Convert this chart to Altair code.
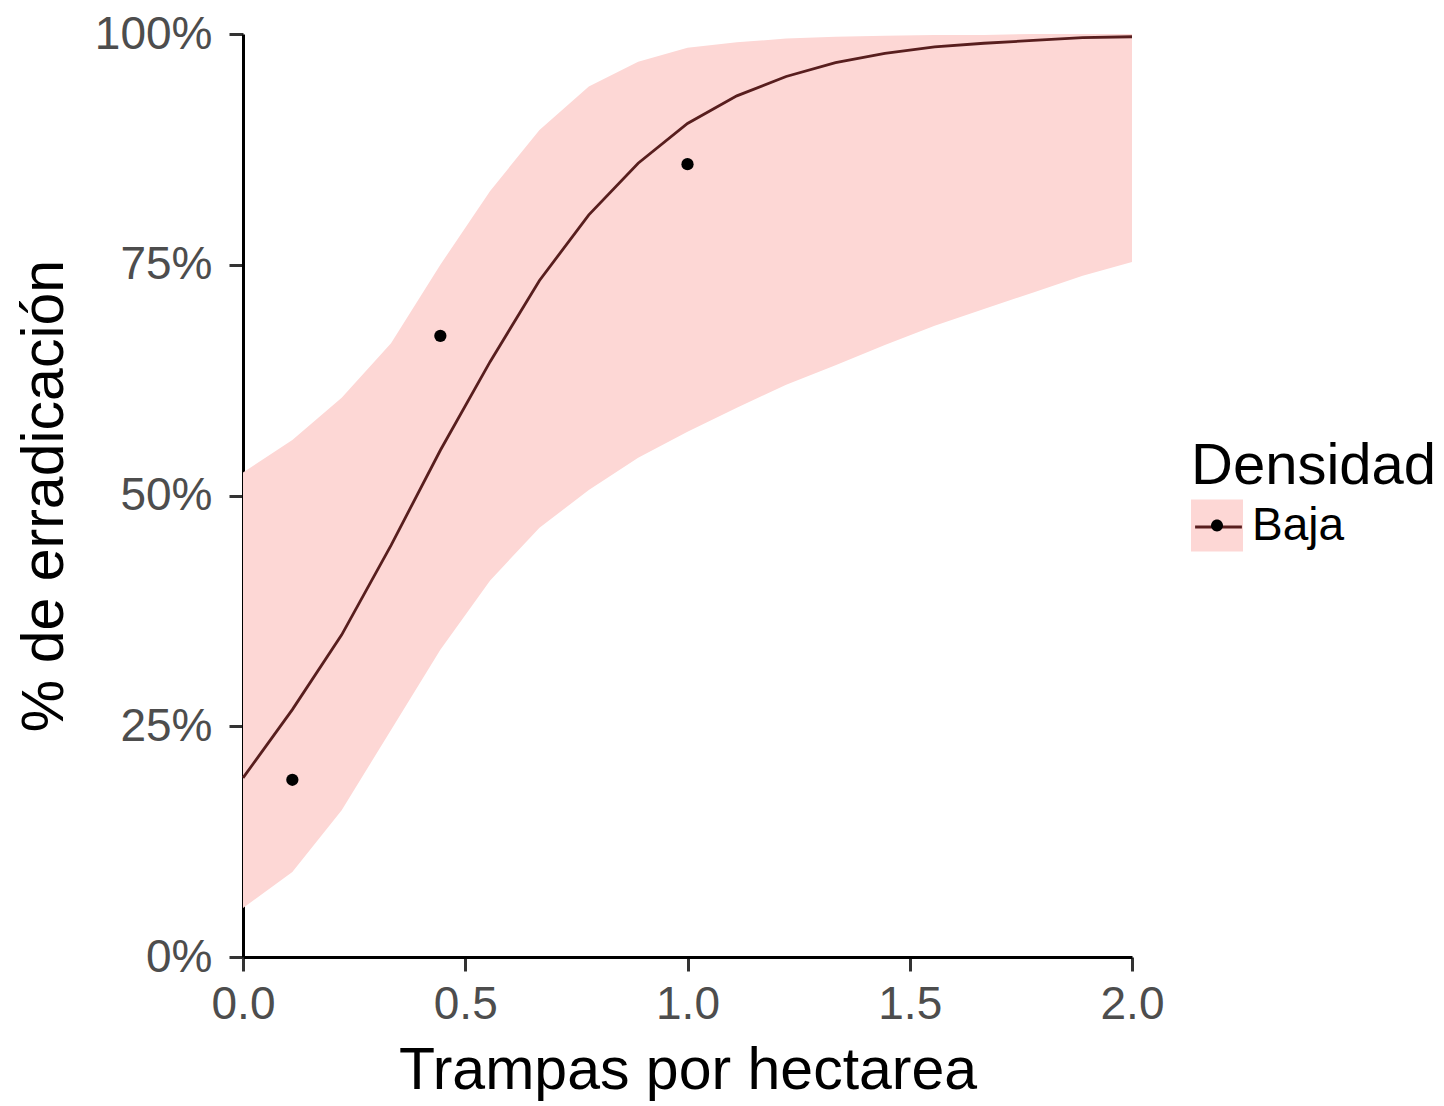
import altair as alt
import pandas as pd

FONT = "Liberation Sans"
PINK = "#FDD7D5"
LINE_COL = "#581E1E"

# Fitted curve grid (trampas por hectarea)
x_vals = [0.0, 0.111, 0.222, 0.333, 0.444, 0.556, 0.667, 0.778, 0.889, 1.0,
          1.111, 1.222, 1.333, 1.444, 1.556, 1.667, 1.778, 1.889, 2.0]
fit_pct = [19.4, 26.8, 34.9, 44.6, 54.9, 64.5, 73.3, 80.4, 86.0, 90.3,
           93.3, 95.4, 96.9, 97.9, 98.6, 99.0, 99.3, 99.6, 99.7]
upper_pct = [52.5, 56.0, 60.6, 66.5, 75.0, 83.0, 89.6, 94.3, 97.0, 98.5,
             99.1, 99.5, 99.7, 99.8, 99.9, 99.9, 100.0, 100.0, 100.0]
lower_pct = [5.3, 9.2, 15.9, 24.6, 33.3, 40.8, 46.5, 50.6, 54.1, 56.9,
             59.5, 62.0, 64.1, 66.3, 68.4, 70.2, 72.0, 73.8, 75.3]

# Observed points
obs_x = [0.111, 0.444, 1.0]
obs_pct = [19.2, 67.3, 85.9]

group = "Baja"
x_ticks = [0.0, 0.5, 1.0, 1.5, 2.0]
y_ticks = [0.0, 0.25, 0.5, 0.75, 1.0]

curve = pd.DataFrame({
    "x": x_vals,
    "fit": [v / 100 for v in fit_pct],
    "hi": [v / 100 for v in upper_pct],
    "lo": [v / 100 for v in lower_pct],
    "dens_area": [group] * len(x_vals),
    "dens_line": [group] * len(x_vals),
})
pts = pd.DataFrame({
    "x": obs_x,
    "y": [v / 100 for v in obs_pct],
    "dens_pt": [group] * len(obs_x),
})

x_axis = alt.Axis(values=x_ticks, format=".1f", title="Trampas por hectarea", grid=False,
                  domainColor="black", domainWidth=3, tickColor="#333333", tickWidth=3,
                  tickSize=14, labelFontSize=46, labelColor="#4D4D4D", labelPadding=11,
                  labelFont=FONT, titleFont=FONT, titleFontSize=59, titleColor="black",
                  titleFontWeight="normal", titlePadding=14, labelFlush=False,
                  labelOverlap=False)
y_axis = alt.Axis(values=y_ticks, format=".0%", title="% de erradicación", grid=False,
                  domainColor="black", domainWidth=3, tickColor="#333333", tickWidth=3,
                  tickSize=14, labelFontSize=46, labelColor="#4D4D4D", labelPadding=17,
                  labelFont=FONT, titleFont=FONT, titleFontSize=59, titleColor="black",
                  titleFontWeight="normal", titlePadding=20, labelFlush=False,
                  labelOverlap=False)

x_scale = alt.Scale(domain=[0, 2], nice=False, zero=False)
y_scale = alt.Scale(domain=[0, 1], nice=False)

LEG_X = 948
LEG_Y = 403.5
ENTRY_Y = 465.5

area = alt.Chart(curve).mark_area(opacity=1).encode(
    x=alt.X("x:Q", scale=x_scale, axis=x_axis),
    y=alt.Y("lo:Q", scale=y_scale, axis=y_axis),
    y2="hi:Q",
    color=alt.Color("dens_area:N", scale=alt.Scale(range=[PINK]),
                    legend=alt.Legend(orient="none", legendX=LEG_X, legendY=LEG_Y,
                                      title="Densidad", titleFont=FONT, titleFontSize=58,
                                      titleFontWeight="normal", titleColor="black",
                                      titlePadding=4, titleLimit=500,
                                      labelFont=FONT, labelFontSize=46, labelColor="black",
                                      labelOffset=9, symbolType="square", symbolSize=2704,
                                      symbolStrokeWidth=0, symbolOpacity=1, padding=0,
                                      zindex=0)),
)

line = alt.Chart(curve).mark_line(strokeWidth=2.8).encode(
    x=alt.X("x:Q", scale=x_scale, axis=x_axis),
    y=alt.Y("fit:Q", scale=y_scale, axis=y_axis),
    stroke=alt.Stroke("dens_line:N", scale=alt.Scale(range=[LINE_COL]),
                      legend=alt.Legend(orient="none", legendX=LEG_X, legendY=ENTRY_Y,
                                        title=None, labelExpr="''", labelFontSize=1,
                                        labelOffset=0,
                                        symbolType="M-0.9,0H0.9", symbolSize=2704,
                                        symbolStrokeWidth=3, symbolOpacity=1, padding=0,
                                        zindex=1)),
)

points = alt.Chart(pts).mark_point(filled=True, size=150, opacity=1).encode(
    x=alt.X("x:Q", scale=x_scale, axis=x_axis),
    y=alt.Y("y:Q", scale=y_scale, axis=y_axis),
    fill=alt.Fill("dens_pt:N", scale=alt.Scale(range=["#000000"]),
                  legend=alt.Legend(orient="none", legendX=LEG_X, legendY=ENTRY_Y,
                                    title=None, labelExpr="''", labelFontSize=1,
                                    labelOffset=0,
                                    symbolType="M-0.23,0A0.23,0.23,0,1,1,0.23,0A0.23,0.23,0,1,1,-0.23,0Z",
                                    symbolSize=2704, symbolStrokeWidth=0, symbolOpacity=1,
                                    padding=0, zindex=2)),
)

chart = alt.layer(area, line, points).properties(
    width=889, height=923,
    background="white",
    autosize=alt.AutoSizeParams(type="none"),
    padding={"left": 235, "top": 26, "right": 304, "bottom": 147},
).configure_view(stroke="transparent", strokeWidth=0)

chart.save("out.html", embed_options={"renderer": "svg", "actions": False})
